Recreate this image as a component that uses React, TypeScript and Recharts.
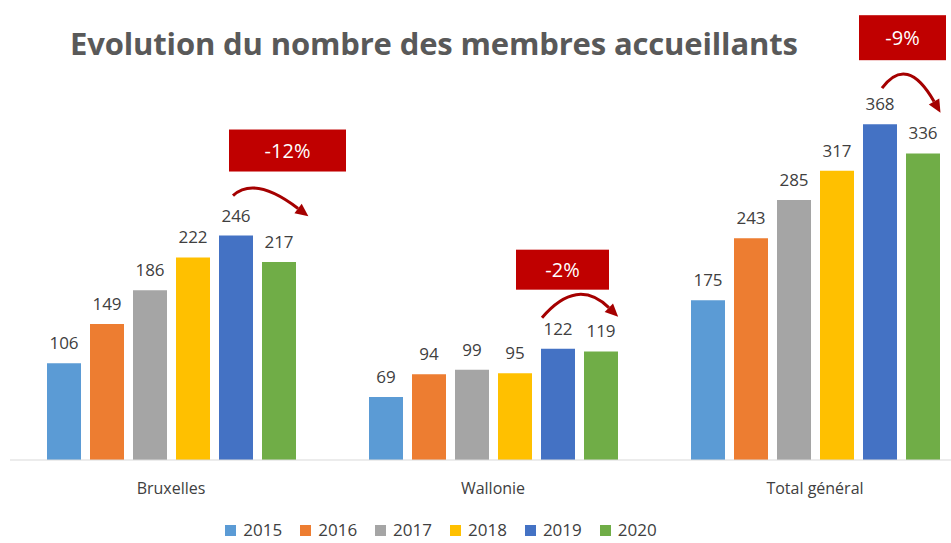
import React from "react";
import { BarChart, Bar, XAxis, YAxis, Legend, LabelList } from "recharts";

const categories = ["Bruxelles", "Wallonie", "Total général"];
const years = ["2015", "2016", "2017", "2018", "2019", "2020"];
const colors = ["#5B9BD5", "#ED7D31", "#A5A5A5", "#FFC000", "#4472C4", "#70AD47"];

const v2015 = [106, 69, 175];
const v2016 = [149, 94, 243];
const v2017 = [186, 99, 285];
const v2018 = [222, 95, 317];
const v2019 = [246, 122, 368];
const v2020 = [217, 119, 336];
const changes = ["-12%", "-2%", "-9%"];

const series = [v2015, v2016, v2017, v2018, v2019, v2020];

const data = categories.map((name, i) => {
  const row: Record<string, any> = { name };
  years.forEach((y, k) => {
    row[y] = series[k][i];
  });
  return row;
});

// box + arrow placement, relative to the top-left corner of the 2019 bar
const annot = [
  { bx: 10, by: -106, bw: 117, bh: 42, sx: 14, sy: -40, cx: 36, cy: -60, ex: 87, ey: -21 },
  { bx: -25, by: -99, bw: 93, bh: 40, sx: 1, sy: -31, cx: 36, cy: -72, ex: 75, ey: -34 },
  { bx: -4, by: -109, bw: 87, bh: 45, sx: 19, sy: -36, cx: 44, cy: -70, ex: 76, ey: -14 },
];

const FONT = "'Open Sans', 'DejaVu Sans', sans-serif";
const TXT = "#404040";

const Annotation = (props: any) => {
  const { x, y, index } = props;
  const a = annot[index];
  if (!a) return null;
  const sx = x + a.sx, sy = y + a.sy;
  const cx = x + a.cx, cy = y + a.cy;
  const ex = x + a.ex, ey = y + a.ey;
  const ang = Math.atan2(ey - cy, ex - cx);
  const L = 10, W = 6;
  const p1x = ex + Math.cos(ang) * 3, p1y = ey + Math.sin(ang) * 3;
  const bx = ex - Math.cos(ang) * L, by = ey - Math.sin(ang) * L;
  const p2x = bx + Math.cos(ang + Math.PI / 2) * W, p2y = by + Math.sin(ang + Math.PI / 2) * W;
  const p3x = bx - Math.cos(ang + Math.PI / 2) * W, p3y = by - Math.sin(ang + Math.PI / 2) * W;
  return (
    <g>
      <rect x={x + a.bx} y={y + a.by} width={a.bw} height={a.bh} fill="#C00000" />
      <text
        x={x + a.bx + a.bw / 2}
        y={y + a.by + a.bh / 2 + 7}
        textAnchor="middle"
        fill="#fff"
        fontSize={20}
        fontFamily={FONT}
      >
        {changes[index]}
      </text>
      <path
        d={`M${sx},${sy} Q${cx},${cy} ${bx},${by}`}
        fill="none"
        stroke="#A50000"
        strokeWidth={3}
      />
      <polygon points={`${p1x},${p1y} ${p2x},${p2y} ${p3x},${p3y}`} fill="#A50000" />
    </g>
  );
};

const CategoryTick = (props: any) => {
  const { x, y, payload } = props;
  return (
    <text x={x} y={y + 26} textAnchor="middle" fill={TXT} fontSize={16} fontFamily={FONT}>
      {payload.value}
    </text>
  );
};

const LegendContent = () => (
  <div
    style={{
      display: "flex",
      justifyContent: "center",
      gap: 18,
      fontFamily: FONT,
      fontSize: 17,
      lineHeight: "22px",
      color: TXT,
      paddingTop: 6,
    }}
  >
    {years.map((y, k) => (
      <div key={y} style={{ display: "flex", alignItems: "center", gap: 7 }}>
        <span style={{ width: 11, height: 11, background: colors[k], display: "inline-block" }} />
        <span>{y}</span>
      </div>
    ))}
  </div>
);

export default function App() {
  return (
    <div
      style={{
        position: "fixed",
        left: 0,
        top: 0,
        width: 951,
        height: 543,
        overflow: "hidden",
        background: "#fff",
      }}
    >
      <div
        style={{
          position: "absolute",
          left: 70,
          top: 22,
          fontFamily: FONT,
          fontWeight: 700,
          fontSize: 31,
          color: "#595959",
          whiteSpace: "nowrap",
          letterSpacing: -0.15,
        }}
      >
        Evolution du nombre des membres accueillants
      </div>
      <BarChart
        width={980}
        height={543}
        data={data}
        margin={{ top: 95, right: 4, bottom: 0, left: 10 }}
        barSize={34}
        barGap={9}
      >
        <XAxis
          dataKey="name"
          axisLine={{ stroke: "#D9D9D9" }}
          tickLine={false}
          height={53}
          tick={<CategoryTick />}
        />
        <YAxis hide domain={[0, 400]} />
        <Legend
          verticalAlign="bottom"
          height={30}
          content={<LegendContent />}
          wrapperStyle={{ bottom: 0, left: 0, width: 882 }}
        />
        {years.map((y, k) => (
          <Bar key={y} dataKey={y} fill={colors[k]} isAnimationActive={false}>
            <LabelList
              dataKey={y}
              position="top"
              offset={14}
              fill={TXT}
              fontSize={17}
              fontFamily={FONT}
            />
            {y === "2019" && <LabelList dataKey={y} content={<Annotation />} />}
          </Bar>
        ))}
      </BarChart>
    </div>
  );
}
